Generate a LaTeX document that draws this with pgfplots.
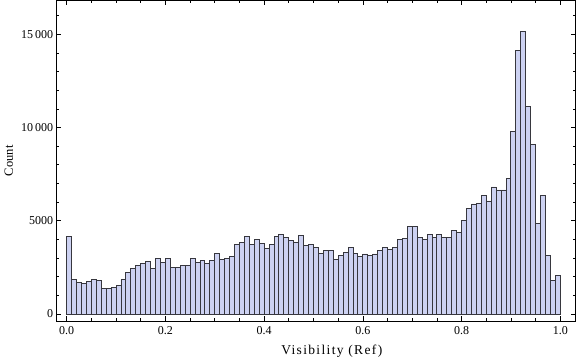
\documentclass[border=0pt]{standalone}
\usepackage{fontspec}
\setmainfont{Liberation Serif}
\usepackage{pgfplots}
\pgfplotsset{compat=1.18}
\definecolor{barfill}{RGB}{205,210,242}
\definecolor{baredge}{RGB}{55,55,62}
\begin{document}
\begin{tikzpicture}
\begin{axis}[
  scale only axis,
  width=519pt, height=320.5pt,
  xmin=-0.02026, xmax=1.0312,
  ymin=-375, ymax=16810,
  axis line style={line width=0.8pt},
  every tick/.style={black, line width=0.7pt},
  tick align=inside,
  major tick length=4.5pt,
  minor tick length=2.6pt,
  xtick pos=both, ytick pos=both,
  xticklabel pos=left, yticklabel pos=left,
  xtick={0,0.2,0.4,0.6,0.8,1.0},
  xticklabels={0.0,0.2,0.4,0.6,0.8,1.0},
  minor xtick={0.05,0.1,0.15,0.25,0.3,0.35,0.45,0.5,0.55,0.65,0.7,0.75,0.85,0.9,0.95},
  ytick={0,5000,10000,15000},
  yticklabels={0,5000,10\,000,15\,000},
  minor ytick={1000,2000,3000,4000,6000,7000,8000,9000,11000,12000,13000,14000,16000},
  ticklabel style={font=\fontsize{12}{14}\selectfont},
  xticklabel style={yshift=-2pt},
  xlabel={\addfontfeature{LetterSpace=10}Visibility (Ref)},
  ylabel={Count},
  xlabel style={font=\fontsize{13.5}{15}\selectfont, at={(axis description cs:0.53,0)}, anchor=center, yshift=-30.5pt},
  ylabel style={font=\fontsize{12.5}{14}\selectfont, at={(axis description cs:-0.0925,0.5)}, anchor=center},
  /pgf/number format/assume math mode=true,
]
\addplot[ybar interval, fill=barfill, draw=baredge, line width=0.9pt] table[x=x, y=y] {
x y
0.00 4175
0.01 1860
0.02 1700
0.03 1650
0.04 1760
0.05 1860
0.06 1810
0.07 1380
0.08 1380
0.09 1430
0.10 1540
0.11 1860
0.12 2240
0.13 2460
0.14 2620
0.15 2720
0.16 2830
0.17 2460
0.18 2990
0.19 2780
0.20 2990
0.21 2510
0.22 2510
0.23 2620
0.24 2620
0.25 2990
0.26 2780
0.27 2850
0.28 2720
0.29 2850
0.30 3260
0.31 2940
0.32 2990
0.33 3100
0.34 3750
0.35 3850
0.36 4180
0.37 3750
0.38 4010
0.39 3800
0.40 3530
0.41 3750
0.42 4180
0.43 4280
0.44 4120
0.45 3960
0.46 3850
0.47 4230
0.48 3690
0.49 3750
0.50 3580
0.51 3260
0.52 3420
0.53 3420
0.54 2940
0.55 3150
0.56 3320
0.57 3580
0.58 3260
0.59 3110
0.60 3220
0.61 3160
0.62 3220
0.63 3430
0.64 3580
0.65 3440
0.66 3580
0.67 3980
0.68 4030
0.69 4710
0.70 4710
0.71 4120
0.72 3980
0.73 4280
0.74 4120
0.75 4280
0.76 4090
0.77 4120
0.78 4500
0.79 4390
0.80 5040
0.81 5680
0.82 5900
0.83 5950
0.84 6380
0.85 6060
0.86 6810
0.87 6650
0.88 6650
0.89 7290
0.90 9770
0.91 14120
0.92 15140
0.93 11110
0.94 9070
0.95 4870
0.96 6330
0.97 3150
0.98 1810
0.99 2080
1.00 2080
};
\end{axis}
\pgfresetboundingbox
\path (-56.7pt,-40pt) rectangle (519.3pt,321pt);
\end{tikzpicture}
\end{document}
